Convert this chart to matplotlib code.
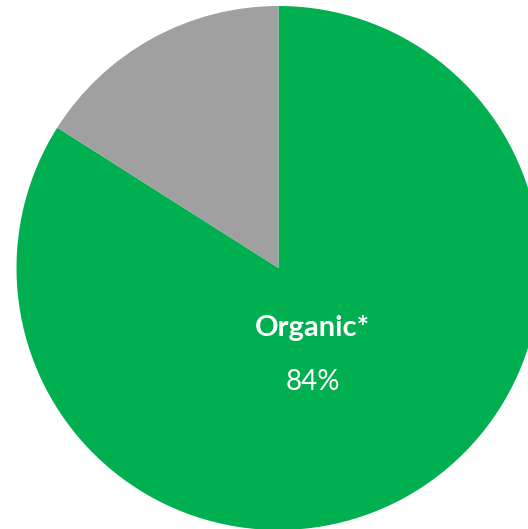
import matplotlib

matplotlib.use("Agg")
import matplotlib.pyplot as plt

labels = ["Organic*", "Other"]
shares = [84, 16]
colors = ["#00B050", "#A0A0A0"]

W, H = 528, 529
fig = plt.figure(figsize=(W / 100, H / 100), dpi=100)
ax = fig.add_axes([0, 0, 1, 1])

# pie centre / radius in pixel units; circle runs off right and bottom edges
cx, cy, r = 278.5, H - 268, 262
ax.pie(shares, colors=colors, startangle=90, counterclock=False,
       center=(cx, cy), radius=r, frame=True,
       wedgeprops=dict(linewidth=0))
ax.set_xlim(0, W)
ax.set_ylim(0, H)
ax.axis("off")

ax.text(312, H - 328, labels[0], color="white", fontsize=21, fontweight="bold",
        family="Lato", ha="center", va="center")
ax.text(313, H - 382, f"{shares[0]}%", color="white", fontsize=20,
        family="Lato", ha="center", va="center")

fig.savefig("out.png", dpi=100)
